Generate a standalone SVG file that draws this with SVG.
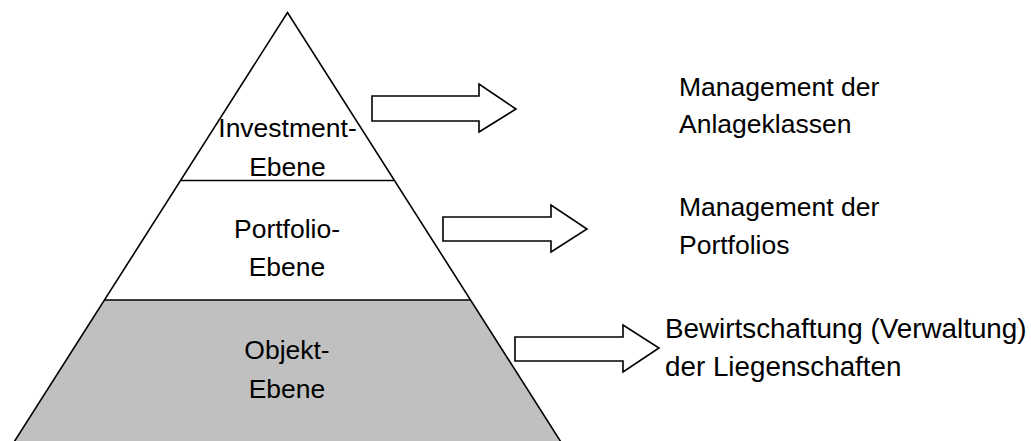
<svg xmlns="http://www.w3.org/2000/svg" width="1031" height="441" viewBox="0 0 1031 441">
<style>
.ln{fill:none;stroke:#000;stroke-width:1.6;stroke-linejoin:miter}
.ar{fill:#fff;stroke:#000;stroke-width:1.6;stroke-linejoin:miter}
text{font-family:"Liberation Sans",Arial,sans-serif;font-size:26.5px;fill:#000}
.c{text-anchor:middle}
.big{font-size:27.8px}
</style>
<rect width="1031" height="441" fill="#fff"/>
<g id="pyramid">
<polygon points="104.5,300 470.5,300 563.5,446 11.5,446" fill="#c0c0c0" stroke="none"/>
<polyline class="ln" points="11.5,446 287.5,12.5 563.5,446"/>
<line class="ln" x1="180.8" y1="180.5" x2="394.2" y2="180.5"/>
<line class="ln" x1="104.5" y1="300" x2="470.5" y2="300"/>
</g>
<g id="investment">
<text class="c" x="287.5" y="137">Investment-</text>
<text class="c" x="287.5" y="176">Ebene</text>
</g>
<g id="portfolio">
<text class="c" x="287" y="238">Portfolio-</text>
<text class="c" x="287" y="276">Ebene</text>
</g>
<g id="objekt">
<text class="c" x="287" y="359">Objekt-</text>
<text class="c" x="287" y="398">Ebene</text>
</g>
<g id="connectors">
<polygon class="ar" points="372,96 479,96 479,84 516,109 479,132 479,121 372,121"/>
<polygon class="ar" points="443,217 551,217 551,205 587,229 551,252 551,241 443,241"/>
<polygon class="ar" points="515,337 623,337 623,325 659,348 623,372 623,361 515,361"/>
</g>
<g id="label-investment">
<text x="679" y="96">Management der</text>
<text x="679" y="133">Anlageklassen</text>
</g>
<g id="label-portfolio">
<text x="679" y="216">Management der</text>
<text x="679" y="254">Portfolios</text>
</g>
<g id="label-objekt">
<text class="big" x="665" y="338">Bewirtschaftung (Verwaltung)</text>
<text class="big" x="665" y="376">der Liegenschaften</text>
</g>
</svg>
